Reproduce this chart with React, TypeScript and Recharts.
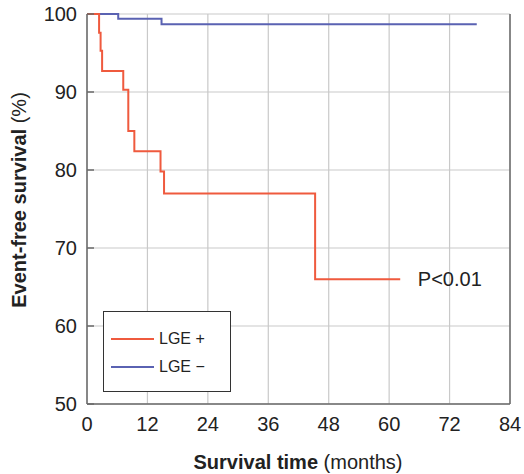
import React from "react";
import {
  CartesianGrid,
  Label,
  Line,
  LineChart,
  ReferenceDot,
  ReferenceLine,
  XAxis,
  YAxis
} from "recharts";

// Kaplan-Meier steps
const lgePosTime = [0, 2.4, 2.7, 3.0, 7.2, 8.2, 9.4, 14.6, 15.3, 45.3, 62.2];
const lgePosSurv = [100, 97.6, 95.3, 92.7, 90.3, 85.0, 82.4, 79.8, 77.0, 66.0, 66.0];

const lgeNegTime = [0, 6.2, 14.8, 77.4];
const lgeNegSurv = [100, 99.4, 98.7, 98.7];

const xTicks = [0, 12, 24, 36, 48, 60, 72, 84];
const yTicks = [50, 60, 70, 80, 90, 100];

const seriesNames = ["LGE +", "LGE \u2212"];
const pValueText = "P<0.01";

const RED = "#ef5a3e";
const BLUE = "#5a62b2";
const FRAME = "#6a6a6a";
const FONT = "'Liberation Sans', Arial, Helvetica, sans-serif";

const posData = lgePosTime.map((t, i) => ({ t, s: lgePosSurv[i] }));
const negData = lgeNegTime.map((t, i) => ({ t, s: lgeNegSurv[i] }));

// legend drawn as an overlay so it doesn't eat plot space
function LegendBox() {
  const items = [
    { name: seriesNames[0], color: RED },
    { name: seriesNames[1], color: BLUE }
  ];
  return (
    <div
      style={{
        position: "absolute",
        left: 103,
        top: 311,
        width: 128,
        height: 81,
        border: "1px solid #333",
        background: "#fff",
        boxSizing: "border-box",
        paddingTop: 13,
        fontFamily: FONT,
        fontSize: 16,
        color: "#222"
      }}
    >
      {items.map((it) => (
        <div key={it.name} style={{ display: "flex", alignItems: "center", height: 28 }}>
          <span style={{ display: "inline-block", width: 43, height: 2, background: it.color, marginLeft: 7, marginRight: 5 }} />
          <span>{it.name}</span>
        </div>
      ))}
    </div>
  );
}

export default function App() {
  return (
    <div style={{ position: "absolute", left: 0, top: 0, width: 524, height: 474, background: "#fff" }}>
      <LineChart width={524} height={474} margin={{ top: 14, right: 14, left: 0, bottom: 0 }}>
        <CartesianGrid stroke="#c9c9c9" strokeWidth={1.2} />
        <XAxis
          xAxisId="top"
          orientation="top"
          type="number"
          dataKey="t"
          domain={[0, 84]}
          ticks={xTicks}
          height={0}
          tick={false}
          tickSize={-5}
          stroke={FRAME}
          strokeWidth={1.5}
        />
        <XAxis
          type="number"
          dataKey="t"
          domain={[0, 84]}
          ticks={xTicks}
          height={70}
          tickLine={false}
          tickMargin={7}
          stroke={FRAME}
          strokeWidth={1.5}
          tick={{ fill: "#222", fontSize: 20, fontFamily: FONT }}
        >
          <Label
            position="insideBottom"
            content={() => (
              <text x={298} y={469} textAnchor="middle" fontFamily={FONT} fontSize={20} fill="#222">
                <tspan fontWeight="bold">Survival time</tspan>
                <tspan> (months)</tspan>
              </text>
            )}
          />
        </XAxis>
        <YAxis
          type="number"
          domain={[50, 100]}
          ticks={yTicks}
          width={87}
          tickSize={-7}
          tickMargin={17}
          stroke={FRAME}
          strokeWidth={1.5}
          tick={{ fill: "#222", fontSize: 20, fontFamily: FONT }}
        >
          <Label
            position="insideLeft"
            content={() => (
              <text
                x={26}
                y={200}
                transform="rotate(-90 26 200)"
                textAnchor="middle"
                fontFamily={FONT}
                fontSize={20}
                fill="#222"
              >
                <tspan fontWeight="bold">Event-free survival</tspan>
                <tspan> (%)</tspan>
              </text>
            )}
          />
        </YAxis>
        <ReferenceLine x={84} stroke={FRAME} strokeWidth={1.5} />
        <Line
          data={negData}
          dataKey="s"
          name={seriesNames[1]}
          type="stepAfter"
          stroke={BLUE}
          strokeWidth={2}
          dot={false}
          isAnimationActive={false}
        />
        <Line
          data={posData}
          dataKey="s"
          name={seriesNames[0]}
          type="stepAfter"
          stroke={RED}
          strokeWidth={2}
          dot={false}
          isAnimationActive={false}
        />
        <ReferenceDot
          x={65.7}
          y={66}
          r={0}
          fill="none"
          stroke="none"
          label={{
            content: (p: any) => (
              <text
                x={p.viewBox?.x ?? 0}
                y={(p.viewBox?.y ?? 0) + 7}
                textAnchor="start"
                fontFamily={FONT}
                fontSize={20}
                fill="#222"
              >
                {pValueText}
              </text>
            )
          }}
        />
      </LineChart>
      <LegendBox />
    </div>
  );
}
